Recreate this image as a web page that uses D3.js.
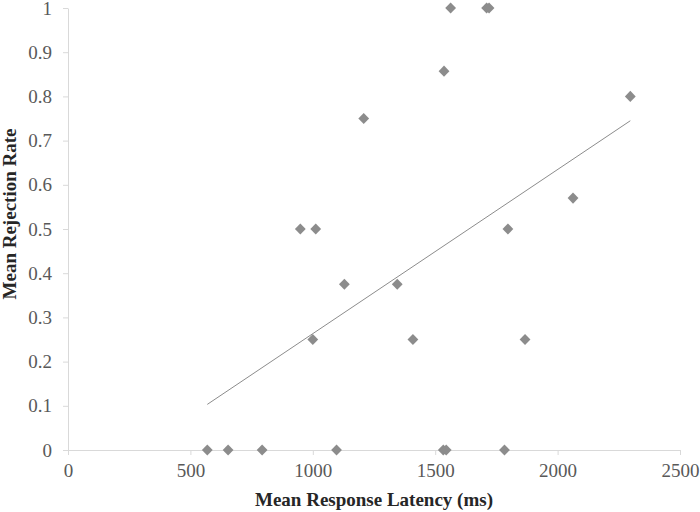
<!DOCTYPE html>
<meta charset="utf-8">
<style>
body { margin: 0; background: #fff; }
</style>
<div id="chart"></div>
<script src="https://cdn.jsdelivr.net/npm/d3@7"></script>
<script>

// latency (ms) and rejection rate for each participant
var latency = [569, 654, 793, 1097, 949, 1012, 1000, 1129, 1208, 1345, 1409,
               1536, 1563, 1710, 1720, 1533, 1545, 1783, 1797, 1867, 2063, 2297];
var rejection = [0, 0, 0, 0, 0.5, 0.5, 0.25, 0.375, 0.75, 0.375, 0.25,
                 0.857, 1, 1, 1, 0, 0, 0, 0.5, 0.25, 0.57, 0.8];
var xTicks = [0, 500, 1000, 1500, 2000, 2500];
var yTicks = [0, 0.1, 0.2, 0.3, 0.4, 0.5, 0.6, 0.7, 0.8, 0.9, 1];

var serif = "'Liberation Serif', 'Times New Roman', serif";

var svg = d3.select("#chart").append("svg")
    .attr("width", 700)
    .attr("height", 512),
    margin = {top: 8, right: 20, bottom: 62, left: 68},
    width = 680 - margin.left,
    height = 450 - margin.top,
    g = svg.append("g").attr("transform", "translate(" + margin.left + "," + margin.top + ")");

var data = latency.map(function(d, i) { return {x: d, y: rejection[i]}; });

var x = d3.scaleLinear().domain([0, 2500]).range([0, width]);
var y = d3.scaleLinear().domain([0, 1]).range([height, 0]);

var xAxis = g.append("g")
    .attr("transform", "translate(0," + height + ")")
    .call(d3.axisBottom(x).tickValues(xTicks).tickSize(5).tickPadding(9).tickSizeOuter(0)
      .tickFormat(d3.format("d")));

var yAxis = g.append("g")
    .call(d3.axisLeft(y).tickValues(yTicks).tickSize(5).tickPadding(11).tickSizeOuter(0)
      .tickFormat(function(d) { return String(+d.toFixed(1)); }));

[xAxis, yAxis].forEach(function(a) {
  a.selectAll("path, line").attr("stroke", "#d9d9d9");
  a.selectAll("text")
      .attr("fill", "#595959")
      .style("font-family", serif)
      .style("font-size", "19px");
});

// least squares trend line
var mx = d3.mean(latency), my = d3.mean(rejection);
var sxy = d3.sum(data, function(d) { return (d.x - mx) * (d.y - my); });
var sxx = d3.sum(data, function(d) { return (d.x - mx) * (d.x - mx); });
var slope = sxy / sxx, icpt = my - slope * mx;
var ext = d3.extent(latency);

g.append("line")
    .attr("x1", x(ext[0])).attr("y1", y(icpt + slope * ext[0]))
    .attr("x2", x(ext[1])).attr("y2", y(icpt + slope * ext[1]))
    .attr("stroke", "#8c8c8c")
    .attr("stroke-width", 1);

g.selectAll(".pt")
    .data(data)
  .enter().append("path")
    .attr("class", "pt")
    .attr("transform", function(d) { return "translate(" + x(d.x) + "," + y(d.y) + ")"; })
    .attr("d", "M0,-5.6L5.4,0L0,5.6L-5.4,0Z")
    .attr("fill", "#8c8c8c");

svg.append("text")
    .attr("x", 374)
    .attr("y", 506)
    .attr("text-anchor", "middle")
    .attr("fill", "#262626")
    .style("font-family", serif)
    .style("font-size", "19px")
    .style("font-weight", "bold")
    .text("Mean Response Latency (ms)");

svg.append("text")
    .attr("transform", "translate(16,214) rotate(-90)")
    .attr("text-anchor", "middle")
    .attr("fill", "#262626")
    .style("font-family", serif)
    .style("font-size", "19px")
    .style("font-weight", "bold")
    .text("Mean Rejection Rate");

</script>
